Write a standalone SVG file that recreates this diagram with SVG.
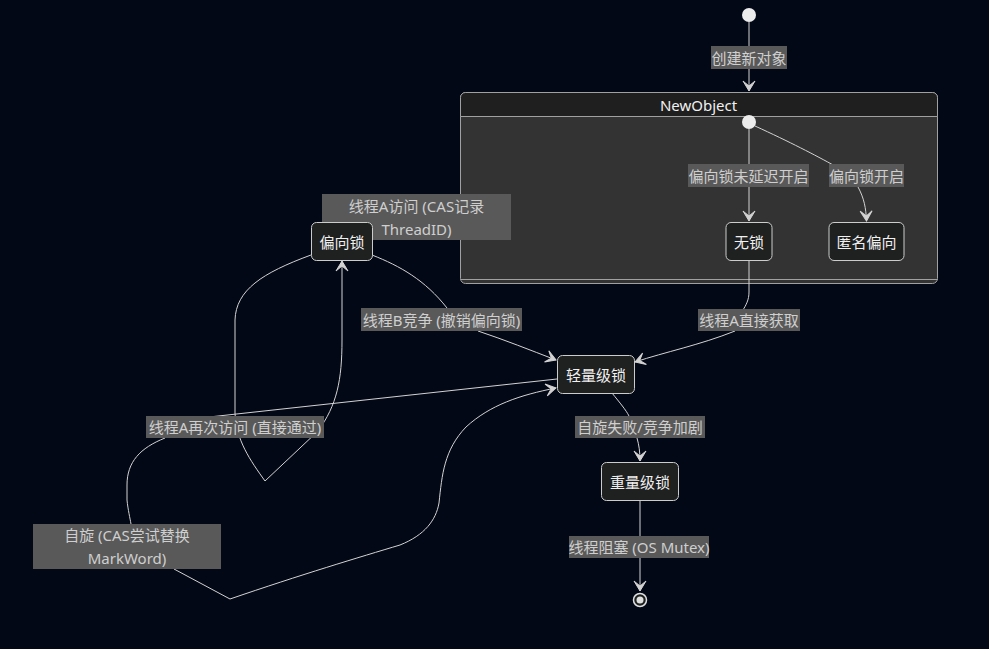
<svg xmlns="http://www.w3.org/2000/svg" width="989" height="649" viewBox="0 0 989 649">
<defs>
<marker id="arr" viewBox="0 0 20 14" refX="19" refY="7" markerWidth="20" markerHeight="14" markerUnits="userSpaceOnUse" orient="auto">
<path d="M19,7 L9,13 L14,7 L9,1 Z" fill="#d3d3d3" stroke="#d3d3d3" stroke-width="1"/>
</marker>
<style>
text{font-family:"Noto Sans","Noto Sans CJK SC",sans-serif;font-size:15px;text-anchor:middle;dominant-baseline:central}
.node rect{fill:#1f2020;stroke:#cccccc;stroke-width:1}
.node text{fill:#f0f0f0}
.lbl rect{fill:#595959}
.lbl text{fill:#cfcfcf}
.edge{fill:none;stroke:#d3d3d3;stroke-width:1}
.start{fill:#ececec}
</style>
</defs>
<rect width="989" height="649" fill="#020816"/>

<g id="NewObject">
<rect x="460.5" y="92.5" width="477" height="191" rx="5" fill="#333333" stroke="#a0a0a0"/>
<path d="M465.5,92.5 H932.5 A5,5 0 0 1 937.5,97.5 V116.5 H460.5 V97.5 A5,5 0 0 1 465.5,92.5 Z" fill="#1f1f1f" stroke="#a0a0a0"/>
<line x1="460.5" y1="279.5" x2="937.5" y2="279.5" stroke="#a0a0a0"/>
<text x="698.5" y="105" fill="#f0f0f0">NewObject</text>
</g>

<g id="start"><circle class="start" cx="749" cy="15" r="7"/></g>
<g id="innerStart"><circle class="start" cx="749" cy="122" r="7"/></g>

<g id="connectors">
<path class="edge" d="M749,22 L749,91" marker-end="url(#arr)"/>
<path class="edge" d="M749,129 L749,221" marker-end="url(#arr)"/>
<path class="edge" d="M755,126 C790,142 815,155 835,166 M858,187 C864,198 866,208 866.5,221" marker-end="url(#arr)"/>
<path class="edge" d="M749,260 L749,292 C749,300 746,305 743,310 M735,331 C700,345 665,352 635,362" marker-end="url(#arr)"/>
<path class="edge" d="M372,255 C400,266 425,280 447,308 M478,331 C505,340 530,350 556,360" marker-end="url(#arr)"/>
<path class="edge" d="M311,255 C262,273 236,290 235,320 L235,413 C236,440 250,460 265,481 L318,431 C337,405 342,380 342,340 L342,261" marker-end="url(#arr)"/>
<path class="edge" d="M557,379 L200,418 M165,438 C140,448 127,462 127,485 L127,500 C128,510 130,518 131,524 M174,569 L230,599 C300,575 360,557 400,545 C425,535 436,520 439,503 C442,475 444,450 466,427 C490,405 520,395 556,388" marker-end="url(#arr)"/>
<path class="edge" d="M612,393 C620,403 626,410 629,416 M637,438 C639,445 640,452 640,461" marker-end="url(#arr)"/>
<path class="edge" d="M640,500 L640,591" marker-end="url(#arr)"/>
</g>

<g id="lbl-create" class="lbl"><rect x="711" y="46" width="76" height="23"/><text x="749" y="57.5">创建新对象</text></g>
<g id="lbl-nodelay" class="lbl"><rect x="688" y="164" width="121" height="23"/><text x="748.5" y="175.5">偏向锁未延迟开启</text></g>
<g id="lbl-biason" class="lbl"><rect x="829" y="164" width="75" height="23"/><text x="866.5" y="175.5">偏向锁开启</text></g>
<g id="lbl-direct" class="lbl"><rect x="698" y="309" width="102" height="22"/><text x="749" y="320">线程A直接获取</text></g>
<g id="lbl-threadB" class="lbl"><rect x="361" y="308" width="161" height="23"/><text x="441.5" y="319.5">线程B竞争 (撤销偏向锁)</text></g>
<g id="lbl-again" class="lbl"><rect x="146" y="416" width="178" height="22"/><text x="235" y="427">线程A再次访问 (直接通过)</text></g>
<g id="lbl-spin" class="lbl"><rect x="33" y="524" width="188" height="45"/><text x="127" y="535">自旋 (CAS尝试替换</text><text x="127" y="558">MarkWord)</text></g>
<g id="lbl-fail" class="lbl"><rect x="575" y="416" width="130" height="22"/><text x="640" y="427">自旋失败/竞争加剧</text></g>
<g id="lbl-block" class="lbl"><rect x="569" y="536" width="140" height="22"/><text x="639" y="547">线程阻塞 (OS Mutex)</text></g>
<g id="lbl-access" class="lbl"><rect x="322" y="194" width="189" height="46"/><text x="416.5" y="206">线程A访问 (CAS记录</text><text x="416.5" y="229">ThreadID)</text></g>

<g id="无锁" class="node"><rect x="726" y="222.5" width="46" height="38" rx="5"/><text x="749" y="241.5">无锁</text></g>
<g id="匿名偏向" class="node"><rect x="829" y="222.5" width="75" height="38" rx="5"/><text x="866.5" y="241.5">匿名偏向</text></g>
<g id="偏向锁" class="node"><rect x="311.5" y="222.5" width="61" height="38" rx="5"/><text x="342" y="241.5">偏向锁</text></g>
<g id="轻量级锁" class="node"><rect x="557.5" y="355.5" width="77" height="38" rx="5"/><text x="596" y="374.5">轻量级锁</text></g>
<g id="重量级锁" class="node"><rect x="601.5" y="462.5" width="77" height="38" rx="5"/><text x="640" y="481.5">重量级锁</text></g>
<g id="end"><circle cx="640" cy="600" r="6.5" fill="#1f2020" stroke="#e0e0e0" stroke-width="1.5"/><circle cx="640" cy="600" r="3.5" fill="#e0e0e0"/></g>
</svg>
